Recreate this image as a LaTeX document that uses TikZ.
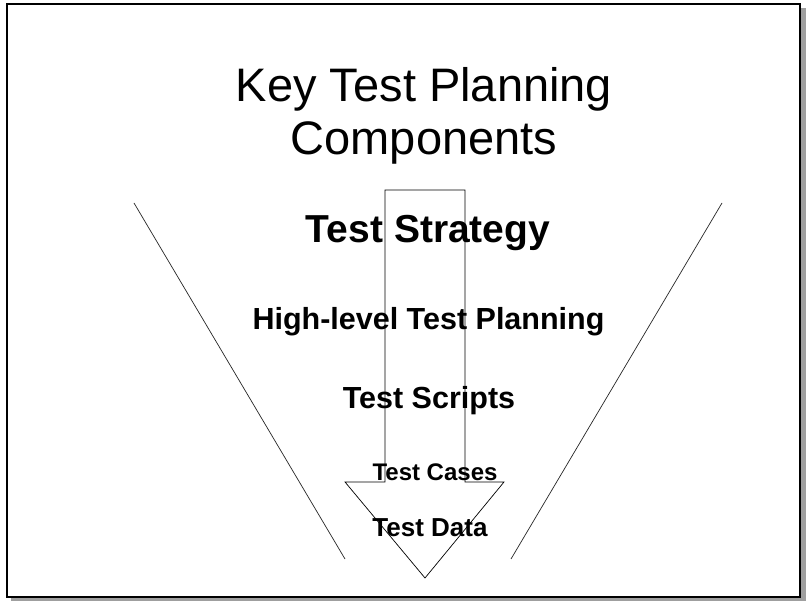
\documentclass[tikz,border=0pt]{standalone}
\usepackage{fontspec}
\setmainfont{Liberation Sans}
\usetikzlibrary{positioning}

\tikzset{
    frameline/.style={line width=1.6pt, draw=black, fill=white},
    vline/.style={line width=0.7pt, black!85},
    label/.style={inner sep=0pt, anchor=base, font=\bfseries},
}

\begin{document}
\begin{tikzpicture}[x=1pt, y=-1pt]
        \useasboundingbox (0,0) rectangle (807,601);

        % slide frame with drop shadow
        \fill[gray!75] (11,8) rectangle (806,601);
        \draw[frameline] (7,4) rectangle (800,597);

        % the funnel
        \draw[vline] (134,203) -- (345,559);
        \draw[vline] (722,203) -- (511,559);

        % down arrow
        \draw[line width=0.7pt] (385,190) -- (465,190) -- (465,482) -- (504,482)
            -- (425,578) -- (345,482) -- (385,482) -- cycle;

        \node[inner sep=0pt, anchor=base, font=\fontsize{47}{53}\selectfont] (title1) at (424,102) {Key Test Planning};
        \node[inner sep=0pt, anchor=base, font=\fontsize{47}{53}\selectfont] (title2) at (424,155) {Components};

        \node[label, font=\bfseries\fontsize{39}{44}\selectfont] (strategy) at (428,243) {Test Strategy};
        \node[label, font=\bfseries\fontsize{30.5}{34}\selectfont] (highlevel) at (428.5,330) {High-level Test Planning};
        \node[label, font=\bfseries\fontsize{30.5}{34}\selectfont] (scripts) at (429,409) {Test Scripts};
        \node[label, font=\bfseries\fontsize{24}{28}\selectfont] (cases) at (435,481) {Test Cases};
        \node[label, font=\bfseries\fontsize{26}{30}\selectfont] (data) at (430,537) {Test Data};
\end{tikzpicture}
\end{document}
